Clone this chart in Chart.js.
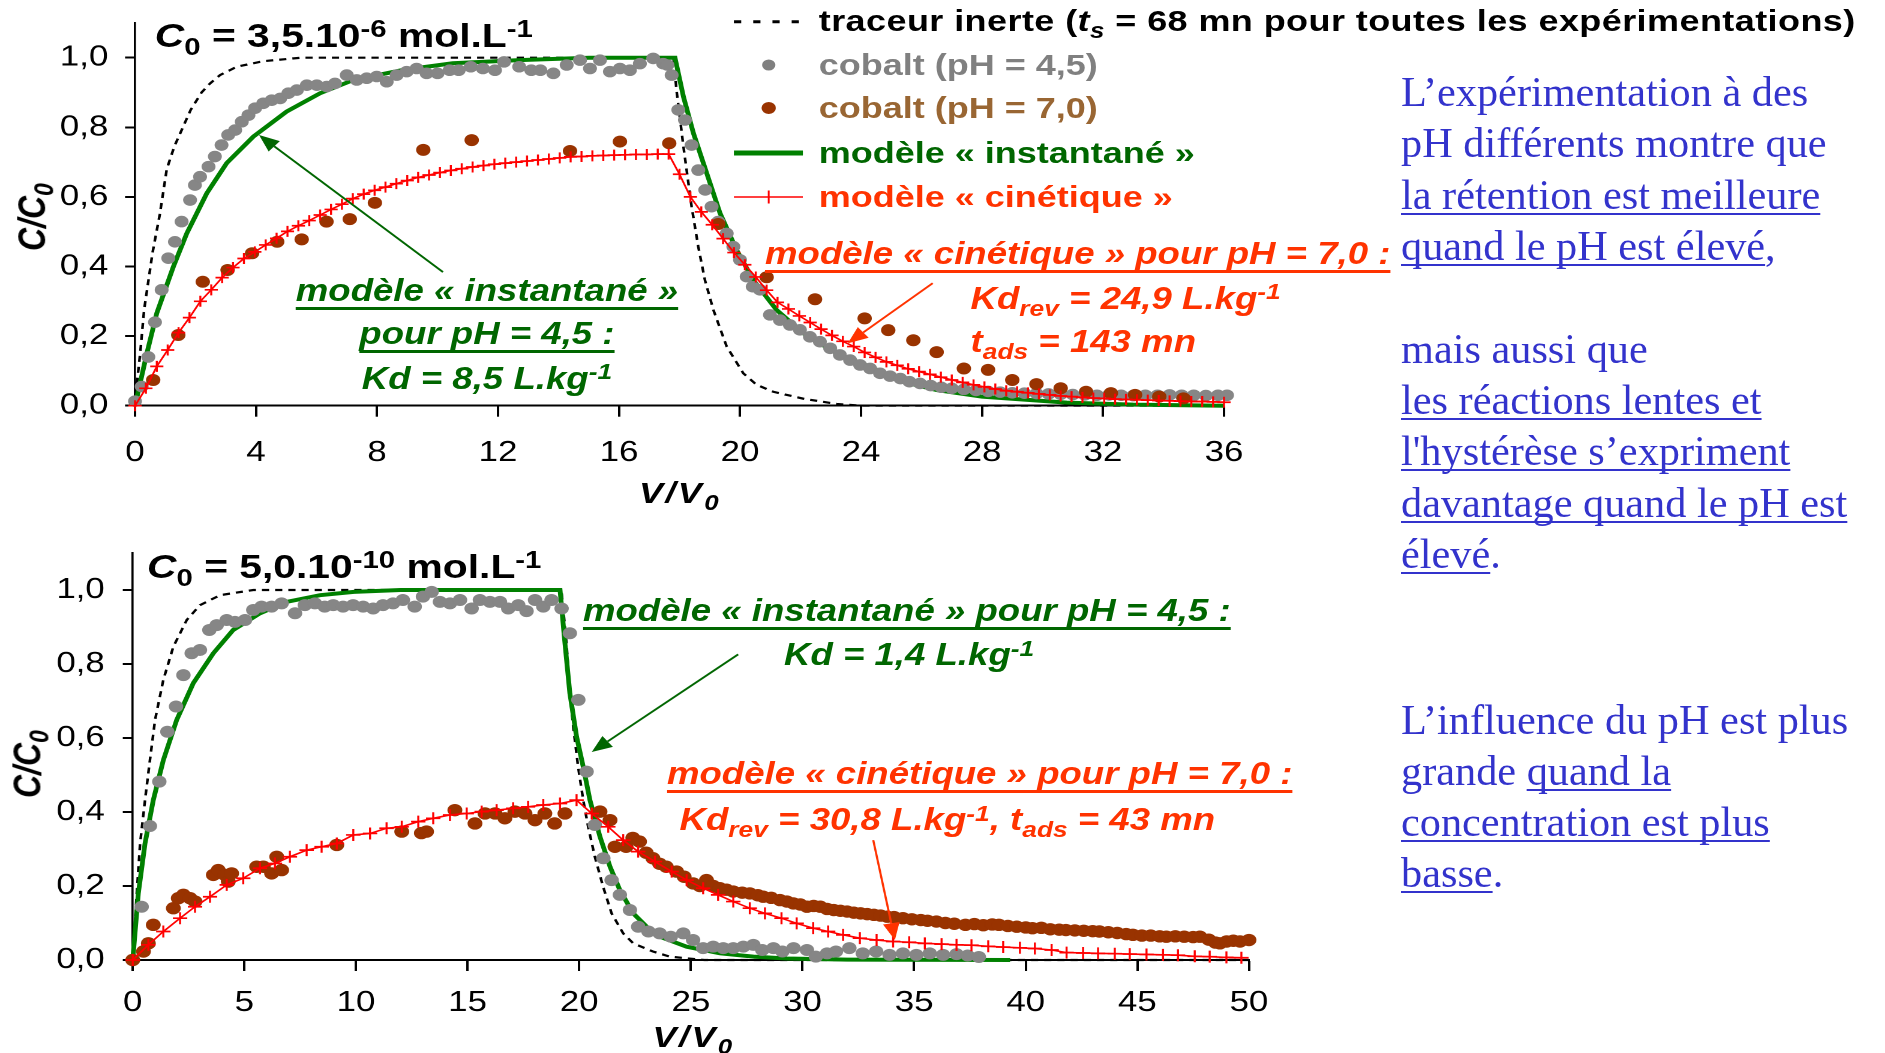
<!DOCTYPE html>
<html lang="fr">
<head>
<meta charset="utf-8">
<title>Percée du cobalt – influence du pH</title>
<script src="https://cdn.jsdelivr.net/npm/chart.js@4.4.1/dist/chart.umd.min.js"></script>
<style>
  html, body { margin: 0; padding: 0; background: #fff; }
  body { width: 1885px; height: 1053px; position: relative; overflow: hidden;
         font-family: "Liberation Sans", Arial, sans-serif; }
  /* the figure block is drawn 1.2x wider than tall, like a stretched slide picture */
  #fig { position: absolute; left: 0; top: 0; width: 1571px; height: 1053px;
         transform: scaleX(1.2); transform-origin: 0 0; }
  .plot { position: absolute; }
  .t { position: absolute; white-space: nowrap; font-weight: bold; font-size: 30px; line-height: 30px; }
  .ttl { font-size: 34px; line-height: 34px; }
  .big { font-size: 30.5px; }
  .it { font-style: italic; }
  .u { text-decoration: underline; text-decoration-thickness: 3px; text-underline-offset: 6px;
       text-decoration-skip-ink: none; }
  .sub { position: relative; top: 0.32em; font-size: 0.72em; }
  .sup { position: relative; top: -0.42em; font-size: 0.72em; }
  .green { color: #006600; }
  .red { color: #ff3300; }
  .grey { color: #808080; }
  .tan { color: #996633; }
  .ctr { transform: translateX(-50%); }
  .ytitle { font-size: 32px; transform: translate(-50%, -50%) rotate(-90deg); }
  .notes { position: absolute; left: 1401px; white-space: nowrap; color: #3333cc;
           font-family: "Liberation Serif", "Times New Roman", serif; font-size: 42.3px; line-height: 51.2px; }
  .notes u { text-decoration-thickness: 2px; text-underline-offset: 4px; text-decoration-skip-ink: none; }
</style>
</head>
<body>
<div id="fig">
  <div class="plot" style="left:0;top:0;width:1060px;height:480px"><canvas id="chartHigh"></canvas></div>
  <div class="plot" style="left:0;top:530px;width:1080px;height:520px"><canvas id="chartLow"></canvas></div>

  <!-- titles -->
  <div class="t ttl" style="left:129px;top:17.9px"><i>C</i><span class="sub">0</span> = 3,5.10<span class="sup">-6</span> mol.L<span class="sup">-1</span></div>
  <div class="t ttl" style="left:122.5px;top:549.2px"><i>C</i><span class="sub">0</span> = 5,0.10<span class="sup">-10</span> mol.L<span class="sup">-1</span></div>

  <!-- axis titles -->
  <div class="t it ytitle" style="left:27.5px;top:217px">C/C<span class="sub">0</span></div>
  <div class="t it ytitle" style="left:24px;top:764px">C/C<span class="sub">0</span></div>
  <div class="t it ctr" style="left:566.7px;top:477.6px;letter-spacing:2px">V/V<span class="sub">0</span></div>
  <div class="t it ctr" style="left:578px;top:1021.6px;letter-spacing:2px">V/V<span class="sub">0</span></div>

  <!-- legend -->
  <svg class="plot" style="left:600px;top:0" width="80" height="220" viewBox="0 0 80 220">
    <line x1="11.7" y1="21.7" x2="65.8" y2="21.7" stroke="#000" stroke-width="3" stroke-dasharray="6 10"/>
    <circle cx="40.6" cy="65" r="5.5" fill="#808080"/>
    <circle cx="40.6" cy="108" r="6" fill="#993300"/>
    <line x1="11.7" y1="153" x2="69.2" y2="153" stroke="#008000" stroke-width="5"/>
    <line x1="11.7" y1="197" x2="69.2" y2="197" stroke="#ff0000" stroke-width="1.6"/>
    <line x1="40.6" y1="190.5" x2="40.6" y2="203.5" stroke="#ff0000" stroke-width="1.6"/>
  </svg>
  <div class="t" style="left:682.3px;top:6.3px;letter-spacing:0.35px">traceur inerte (<i>t<span class="sub">s</span></i> = 68 mn pour toutes les expérimentations)</div>
  <div class="t grey" style="left:682.3px;top:49.6px">cobalt (pH = 4,5)</div>
  <div class="t tan" style="left:682.3px;top:92.6px">cobalt (pH = 7,0)</div>
  <div class="t green" style="left:682.3px;top:137.6px">modèle « instantané »</div>
  <div class="t red" style="left:682.3px;top:181.6px">modèle « cinétique »</div>

  <!-- annotations, upper chart -->
  <div class="t big it green u ctr" style="left:405.8px;top:274.6px">modèle « instantané »</div>
  <div class="t big it green u ctr" style="left:405.8px;top:317.6px">pour pH = 4,5 :</div>
  <div class="t big it green ctr" style="left:405.8px;top:362.6px">Kd = 8,5 L.kg<span class="sup">-1</span></div>
  <div class="t big it red u" style="left:637.5px;top:237.6px">modèle « cinétique » pour pH = 7,0 :</div>
  <div class="t big it red" style="left:808.8px;top:282.6px">Kd<span class="sub">rev</span> = 24,9 L.kg<span class="sup">-1</span></div>
  <div class="t big it red" style="left:808.8px;top:326.3px">t<span class="sub">ads</span> = 143 mn</div>

  <!-- annotations, lower chart -->
  <div class="t big it green u" style="left:485.8px;top:594.6px">modèle « instantané » pour pH = 4,5 :</div>
  <div class="t big it green" style="left:653.3px;top:639.2px">Kd = 1,4 L.kg<span class="sup">-1</span></div>
  <div class="t big it red u" style="left:555.8px;top:758.2px">modèle « cinétique » pour pH = 7,0 :</div>
  <div class="t big it red" style="left:566.3px;top:804.1px">Kd<span class="sub">rev</span> = 30,8 L.kg<span class="sup">-1</span>, t<span class="sub">ads</span> = 43 mn</div>
</div>

<div class="notes" style="top:66.2px">L’expérimentation à des<br>pH différents montre que<br><u>la rétention est meilleure</u><br><u>quand le pH est élevé</u>,</div>
<div class="notes" style="top:322.9px">mais aussi que<br><u>les réactions lentes et</u><br><u>l'hystérèse s’expriment</u><br><u>davantage quand le pH est</u><br><u>élevé</u>.</div>
<div class="notes" style="top:693.5px">L’influence du pH est plus<br>grande <u>quand la</u><br><u>concentration est plus</u><br><u>basse</u>.</div>

<script>
// ---- C0 = 3,5e-6 mol/L : [V/V0, C/C0] ----
const highTracer = [[0,0],[0.05,0.055],[0.17,0.15],[0.3,0.275],[0.58,0.44],[0.82,0.55],[1.05,0.68],[1.3,0.745],[1.84,0.85],[2.2,0.9],[2.48,0.926],[2.81,0.95],[3.36,0.974],[4.24,0.99],[5.5,1.0],[17.8,1.0],[17.9,0.907],[18.13,0.744],[18.4,0.572],[18.62,0.457],[18.84,0.361],[19.12,0.275],[19.56,0.17],[20.11,0.093],[20.55,0.06],[21.1,0.04],[22.1,0.02],[23.2,0.005],[24,0],[36,0]];
const highInstant = [[0,0],[0.39,0.15],[0.72,0.266],[1.27,0.4],[1.71,0.495],[2.37,0.61],[3.03,0.697],[3.91,0.773],[5.01,0.845],[6.12,0.898],[7.22,0.936],[8.87,0.965],[10.5,0.984],[12.7,0.993],[15,1.0],[17.85,1.0],[18.13,0.888],[18.46,0.783],[18.9,0.668],[19.34,0.553],[19.89,0.447],[20.44,0.361],[21.21,0.275],[22.1,0.208],[23.2,0.15],[24.3,0.112],[25.4,0.068],[26.5,0.045],[28.0,0.026],[30.8,0.009],[33,0.003],[36,0]];
const highPh45 = [[0,0.013],[0.22,0.055],[0.44,0.14],[0.66,0.24],[0.88,0.333],[1.1,0.424],[1.32,0.471],[1.54,0.529],[1.82,0.591],[1.98,0.634],[2.15,0.658],[2.43,0.687],[2.64,0.716],[2.86,0.749],[3.08,0.778],[3.31,0.792],[3.53,0.816],[3.75,0.835],[3.97,0.855],[4.24,0.869],[4.52,0.878],[4.8,0.883],[5.07,0.898],[5.35,0.907],[5.68,0.921],[6.01,0.921],[6.34,0.917],[6.61,0.926],[7.0,0.95],[7.33,0.936],[7.66,0.941],[7.99,0.946],[8.32,0.931],[8.65,0.95],[8.98,0.96],[9.31,0.969],[9.64,0.955],[10.0,0.955],[10.4,0.964],[10.7,0.964],[11.1,0.974],[11.5,0.969],[11.9,0.964],[12.2,0.988],[12.7,0.974],[13.1,0.964],[13.4,0.964],[13.83,0.955],[14.27,0.979],[14.71,0.993],[15.04,0.969],[15.37,0.993],[15.7,0.96],[16.03,0.969],[16.36,0.964],[16.69,0.983],[17.13,0.998],[17.46,0.983],[17.6,0.979],[17.74,0.95],[17.96,0.85],[18.18,0.821],[18.4,0.749],[18.62,0.677],[18.85,0.62],[19.06,0.572],[19.28,0.529],[19.56,0.495],[19.78,0.457],[20.0,0.419],[20.22,0.371],[20.42,0.342],[20.66,0.333],[20.99,0.261],[21.32,0.246],[21.65,0.232],[21.98,0.218],[22.31,0.198],[22.64,0.184],[22.98,0.165],[23.3,0.146],[23.64,0.131],[23.97,0.117],[24.3,0.107],[24.63,0.093],[24.96,0.085],[25.3,0.078],[25.6,0.069],[25.95,0.064],[26.3,0.058],[26.65,0.053],[27.0,0.05],[27.4,0.047],[27.8,0.044],[28.2,0.041],[28.6,0.039],[29.0,0.037],[29.4,0.036],[29.8,0.035],[30.2,0.034],[30.6,0.033],[31.0,0.032],[31.4,0.031],[31.8,0.03],[32.2,0.031],[32.6,0.03],[33.0,0.029],[33.4,0.03],[33.8,0.03],[34.2,0.031],[34.6,0.03],[35.0,0.03],[35.4,0.029],[35.8,0.03],[36.1,0.03]];
const highPh70 = [[0.6,0.074],[1.43,0.203],[2.24,0.356],[3.06,0.39],[3.87,0.438],[4.7,0.471],[5.51,0.478],[6.33,0.529],[7.1,0.536],[7.93,0.583],[9.53,0.735],[11.13,0.763],[14.38,0.732],[16.03,0.759],[17.66,0.754],[19.28,0.522],[20.88,0.369],[22.48,0.306],[24.12,0.251],[24.9,0.217],[25.73,0.188],[26.5,0.154],[27.4,0.107],[28.2,0.103],[29.0,0.074],[29.8,0.062],[30.6,0.05],[31.44,0.04],[32.26,0.036],[33.06,0.031],[33.86,0.026],[34.66,0.021]];
const highKinetic = [[0,0],[0.36,0.05],[0.72,0.113],[1.08,0.16],[1.44,0.21],[1.8,0.253],[2.16,0.3],[2.52,0.333],[2.88,0.368],[3.24,0.397],[3.6,0.423],[3.96,0.442],[4.32,0.462],[4.68,0.481],[5.04,0.501],[5.4,0.517],[5.76,0.532],[6.12,0.548],[6.48,0.564],[6.84,0.579],[7.2,0.595],[7.56,0.608],[7.92,0.619],[8.28,0.628],[8.64,0.638],[9.0,0.647],[9.36,0.656],[9.72,0.663],[10.08,0.67],[10.44,0.676],[10.8,0.681],[11.16,0.686],[11.52,0.69],[11.88,0.694],[12.24,0.697],[12.6,0.7],[12.96,0.703],[13.32,0.706],[13.68,0.709],[14.04,0.712],[14.4,0.715],[14.76,0.716],[15.12,0.718],[15.48,0.719],[15.84,0.72],[16.2,0.721],[16.56,0.722],[16.92,0.722],[17.28,0.723],[17.64,0.723],[18.0,0.665],[18.36,0.6],[18.72,0.557],[19.08,0.52],[19.44,0.48],[19.8,0.44],[20.16,0.405],[20.52,0.37],[20.88,0.332],[21.24,0.297],[21.6,0.278],[21.96,0.258],[22.32,0.239],[22.68,0.22],[23.04,0.202],[23.4,0.185],[23.76,0.17],[24.12,0.153],[24.48,0.139],[24.84,0.126],[25.2,0.116],[25.56,0.106],[25.92,0.098],[26.28,0.09],[26.64,0.082],[27.0,0.074],[27.36,0.067],[27.72,0.06],[28.08,0.054],[28.44,0.048],[28.8,0.043],[29.16,0.04],[29.52,0.037],[29.88,0.034],[30.24,0.031],[30.6,0.028],[30.96,0.026],[31.32,0.024],[31.68,0.022],[32.04,0.021],[32.4,0.019],[32.76,0.018],[33.12,0.017],[33.48,0.016],[33.84,0.015],[34.2,0.014],[34.56,0.013],[34.92,0.012],[35.28,0.012],[35.64,0.011],[36.0,0.01]];

// ---- C0 = 5,0e-10 mol/L ----
const lowTracer = [[0,0],[0.18,0.18],[0.33,0.315],[0.55,0.432],[0.77,0.54],[1.0,0.649],[1.37,0.757],[1.82,0.847],[2.42,0.919],[3.01,0.959],[3.91,0.986],[5.4,1.0],[19.2,1.0],[19.43,0.856],[19.58,0.721],[19.73,0.631],[19.95,0.522],[20.18,0.432],[20.4,0.36],[20.7,0.279],[21.07,0.198],[21.45,0.126],[21.97,0.072],[22.42,0.045],[23.3,0.023],[24.06,0.009],[25.6,0],[50,0]];
const lowInstant = [[0,0],[0.25,0.18],[0.55,0.315],[0.92,0.432],[1.37,0.54],[1.97,0.649],[2.71,0.748],[3.61,0.829],[4.5,0.892],[5.7,0.937],[6.9,0.968],[8.39,0.986],[9.9,0.995],[12,1.0],[19.14,1.0],[19.36,0.856],[19.58,0.721],[19.88,0.604],[20.18,0.522],[20.48,0.432],[20.93,0.333],[21.38,0.252],[21.82,0.189],[22.42,0.126],[23.02,0.09],[23.61,0.063],[24.81,0.036],[26.3,0.018],[27.8,0.009],[29.3,0.004],[32,0.001],[39.3,0]];
const lowPh45 = [[0.4,0.144],[0.77,0.362],[1.19,0.482],[1.55,0.617],[1.94,0.685],[2.27,0.77],[2.64,0.829],[3.01,0.838],[3.43,0.892],[3.76,0.905],[4.21,0.919],[4.58,0.914],[5.03,0.919],[5.4,0.946],[5.77,0.955],[6.22,0.955],[6.67,0.964],[7.27,0.937],[7.71,0.959],[8.16,0.964],[8.6,0.955],[8.98,0.959],[9.42,0.955],[9.87,0.959],[10.32,0.955],[10.77,0.95],[11.21,0.959],[11.66,0.964],[12.1,0.973],[12.63,0.955],[13.0,0.982],[13.39,0.995],[13.76,0.968],[14.21,0.964],[14.66,0.973],[15.18,0.95],[15.55,0.973],[16.0,0.968],[16.45,0.968],[16.82,0.95],[17.27,0.959],[17.64,0.943],[18.02,0.973],[18.39,0.955],[18.76,0.973],[19.21,0.95],[19.58,0.883],[19.96,0.703],[20.33,0.509],[20.7,0.365],[21.08,0.275],[21.45,0.216],[21.82,0.176],[22.27,0.135],[22.64,0.09],[23.1,0.077],[23.6,0.072],[24.1,0.063],[24.66,0.072],[25.1,0.054],[25.55,0.032],[26.0,0.036],[26.45,0.032],[26.9,0.032],[27.35,0.036],[27.8,0.041],[28.2,0.027],[28.7,0.032],[29.1,0.023],[29.6,0.032],[30.2,0.027],[30.6,0.009],[31.1,0.018],[31.5,0.023],[32.1,0.032],[32.7,0.018],[33.3,0.023],[33.9,0.014],[34.5,0.018],[35.1,0.014],[35.7,0.018],[36.3,0.014],[36.9,0.016],[37.4,0.012],[37.9,0.008]];
const lowPh70 = [[0,0],[0.48,0.023],[0.7,0.045],[0.92,0.095],[1.82,0.14],[2.04,0.167],[2.27,0.176],[2.57,0.167],[2.79,0.158],[3.61,0.23],[3.83,0.243],[4.13,0.23],[4.28,0.212],[4.43,0.234],[5.55,0.252],[5.85,0.252],[6.22,0.234],[6.45,0.279],[6.67,0.243],[9.14,0.311],[12.05,0.347],[12.93,0.343],[13.16,0.347],[14.43,0.405],[15.33,0.369],[15.78,0.396],[16.23,0.396],[16.67,0.383],[17.12,0.401],[17.57,0.396],[18.02,0.378],[18.46,0.396],[18.9,0.369],[19.36,0.396],[20.93,0.401],[21.38,0.378],[21.6,0.306],[22.1,0.306],[22.4,0.33],[22.7,0.32],[23.0,0.29],[23.3,0.275],[23.6,0.26],[23.9,0.252],[24.36,0.239],[24.7,0.225],[25.1,0.207],[25.4,0.2],[25.7,0.216],[26.0,0.2],[26.3,0.194],[26.6,0.19],[26.9,0.185],[27.3,0.182],[27.64,0.18],[28.0,0.175],[28.24,0.171],[28.6,0.168],[28.99,0.162],[29.3,0.158],[29.59,0.153],[29.9,0.15],[30.2,0.144],[30.5,0.146],[30.8,0.144],[31.1,0.138],[31.4,0.135],[31.7,0.133],[32.0,0.131],[32.3,0.128],[32.6,0.126],[32.9,0.124],[33.2,0.122],[33.5,0.12],[33.8,0.117],[34.1,0.116],[34.5,0.113],[34.9,0.11],[35.3,0.108],[35.6,0.106],[36.0,0.104],[36.4,0.1],[36.8,0.098],[37.3,0.095],[37.7,0.097],[38.1,0.094],[38.5,0.096],[38.8,0.095],[39.2,0.092],[39.6,0.09],[40.0,0.088],[40.3,0.086],[40.7,0.087],[41.1,0.083],[41.5,0.082],[41.8,0.081],[42.2,0.08],[42.6,0.079],[43.0,0.078],[43.3,0.077],[43.7,0.075],[44.1,0.073],[44.5,0.07],[44.8,0.068],[45.2,0.066],[45.6,0.066],[46.0,0.064],[46.3,0.063],[46.7,0.064],[47.1,0.063],[47.5,0.062],[47.8,0.063],[48.2,0.055],[48.5,0.047],[48.7,0.045],[49.0,0.05],[49.3,0.052],[49.6,0.05],[50.0,0.054]];
const lowKinetic = [[0,0],[0.7,0.041],[1.37,0.077],[2.12,0.113],[2.79,0.144],[3.46,0.171],[4.21,0.203],[4.95,0.221],[5.7,0.248],[6.37,0.261],[7.04,0.279],[7.79,0.297],[8.46,0.306],[9.14,0.315],[9.88,0.338],[10.63,0.342],[11.37,0.356],[12.05,0.36],[12.79,0.374],[13.46,0.383],[14.21,0.392],[14.96,0.396],[15.63,0.401],[16.3,0.405],[17.04,0.41],[17.71,0.414],[18.39,0.419],[19.14,0.423],[19.88,0.432],[20.56,0.396],[21.3,0.36],[21.97,0.324],[22.64,0.293],[23.39,0.266],[24.14,0.239],[24.81,0.216],[25.55,0.194],[26.22,0.176],[26.9,0.158],[27.64,0.14],[28.32,0.126],[29.06,0.113],[29.74,0.099],[30.48,0.086],[31.15,0.077],[31.82,0.068],[32.57,0.059],[33.32,0.054],[34.06,0.05],[34.78,0.048],[35.48,0.045],[36.23,0.043],[36.9,0.041],[37.57,0.04],[38.32,0.037],[38.99,0.035],[39.74,0.033],[40.41,0.031],[41.16,0.027],[41.83,0.02],[42.57,0.019],[43.24,0.018],[43.99,0.017],[44.66,0.016],[45.41,0.015],[46.15,0.014],[46.82,0.013],[47.57,0.01],[48.24,0.009],[48.99,0.007],[49.66,0.006]];

// annotation arrows, tail -> head, in data units
const highArrows = [
  { from: [10.18, 0.384], to: [4.1, 0.778], color: '#006600' },
  { from: [26.37, 0.352], to: [23.56, 0.179], color: '#ff3300' }
];
const lowArrows = [
  { from: [27.12, 0.826], to: [20.56, 0.562], color: '#006600' },
  { from: [33.17, 0.324], to: [34.14, 0.054], color: '#ff3300' }
];

const FONT = '"Liberation Sans", Arial, sans-serif';

function toPoints(pairs) {
  return pairs.map(function(p) { return { x: p[0], y: p[1] }; });
}

// arrow drawn on top of the datasets
const arrowPlugin = {
  id: 'arrows',
  afterDatasetsDraw(chart, args, opts) {
    var ctx = chart.ctx, xs = chart.scales.x, ys = chart.scales.y;
    (opts.list || []).forEach(function(a) {
      var x0 = xs.getPixelForValue(a.from[0]), y0 = ys.getPixelForValue(a.from[1]);
      var x1 = xs.getPixelForValue(a.to[0]), y1 = ys.getPixelForValue(a.to[1]);
      var ang = Math.atan2(y1 - y0, x1 - x0);
      var len = 17, half = 7;
      var bx = x1 - Math.cos(ang) * len, by = y1 - Math.sin(ang) * len;
      ctx.save();
      ctx.strokeStyle = a.color;
      ctx.fillStyle = a.color;
      ctx.lineWidth = 1.8;
      ctx.beginPath();
      ctx.moveTo(x0, y0);
      ctx.lineTo(bx, by);
      ctx.stroke();
      ctx.beginPath();
      ctx.moveTo(x1, y1);
      ctx.lineTo(bx - Math.sin(ang) * half, by + Math.cos(ang) * half);
      ctx.lineTo(bx + Math.sin(ang) * half, by - Math.cos(ang) * half);
      ctx.closePath();
      ctx.fill();
      ctx.restore();
    });
  }
};

function buildChart(id, c) {
  return new Chart(document.getElementById(id), {
    type: 'line',
    data: {
      datasets: [
        { label: 'modèle « cinétique »', data: toPoints(c.kinetic), borderColor: '#ff0000', borderWidth: 1.6,
          pointStyle: 'cross', pointRadius: c.crossRadius, pointBorderColor: '#ff0000', pointBorderWidth: 1.7,
          tension: 0, clip: false },
        { label: 'cobalt (pH = 7,0)', data: toPoints(c.ph70), showLine: false, pointRadius: c.brownRadius,
          pointBackgroundColor: '#993300', pointBorderWidth: 0, clip: false },
        { label: 'cobalt (pH = 4,5)', data: toPoints(c.ph45), showLine: false, pointRadius: c.greyRadius,
          pointBackgroundColor: '#868686', pointBorderWidth: 0, clip: false },
        { label: 'modèle « instantané »', data: toPoints(c.instant), borderColor: '#008000', borderWidth: 4,
          pointRadius: 0, tension: 0, clip: false },
        { label: 'traceur inerte', data: toPoints(c.tracer), borderColor: '#000000', borderWidth: 2.2,
          borderDash: [6, 5], pointRadius: 0, tension: 0, clip: false }
      ]
    },
    options: {
      animation: false,
      responsive: true,
      maintainAspectRatio: false,
      devicePixelRatio: 2,
      events: [],
      layout: { padding: { top: c.padTop, right: c.padRight, left: 0, bottom: 0 } },
      plugins: { legend: { display: false }, tooltip: { enabled: false }, arrows: { list: c.arrows } },
      scales: {
        x: {
          type: 'linear', min: 0, max: c.xMax,
          ticks: { stepSize: c.xStep, color: '#000', font: { family: FONT, size: 29 }, padding: c.xPad,
                   maxRotation: 0, autoSkip: false },
          grid: { drawOnChartArea: false, drawTicks: true, tickLength: 11, tickWidth: 2, tickColor: '#000' },
          border: { display: true, color: '#000', width: 2 },
          afterFit: function(s) { s.height = c.xAxisH; s.paddingLeft = 0; s.paddingRight = 0; }
        },
        y: {
          type: 'linear', min: 0, max: 1.1,
          ticks: { stepSize: 0.2, color: '#000', font: { family: FONT, size: 29 }, padding: c.yPad,
                   callback: function(v) { return v.toFixed(1).replace('.', ','); } },
          afterBuildTicks: function(s) { s.ticks = s.ticks.filter(function(t) { return t.value <= 1.0001; }); },
          grid: { drawOnChartArea: false, drawTicks: true, tickLength: 8.3, tickWidth: 2, tickColor: '#000' },
          border: { display: true, color: '#000', width: 1.8 },
          afterFit: function(s) { s.width = c.yAxisW; s.paddingTop = 0; s.paddingBottom = 0; }
        }
      }
    },
    plugins: [arrowPlugin]
  });
}

buildChart('chartHigh', {
  tracer: highTracer, instant: highInstant, ph45: highPh45, ph70: highPh70, kinetic: highKinetic,
  arrows: highArrows, xMax: 36, xStep: 4,
  padTop: 22.9, padRight: 40, yAxisW: 112.5, xAxisH: 74.3, xPad: 19, yPad: 14,
  crossRadius: 5.5, greyRadius: 5.8, brownRadius: 6
});

buildChart('chartLow', {
  tracer: lowTracer, instant: lowInstant, ph45: lowPh45, ph70: lowPh70, kinetic: lowKinetic,
  arrows: lowArrows, xMax: 50, xStep: 5,
  padTop: 23, padRight: 39.2, yAxisW: 110.6, xAxisH: 90, xPad: 14.7, yPad: 15,
  crossRadius: 6, greyRadius: 6, brownRadius: 6.2
});
</script>
</body>
</html>
